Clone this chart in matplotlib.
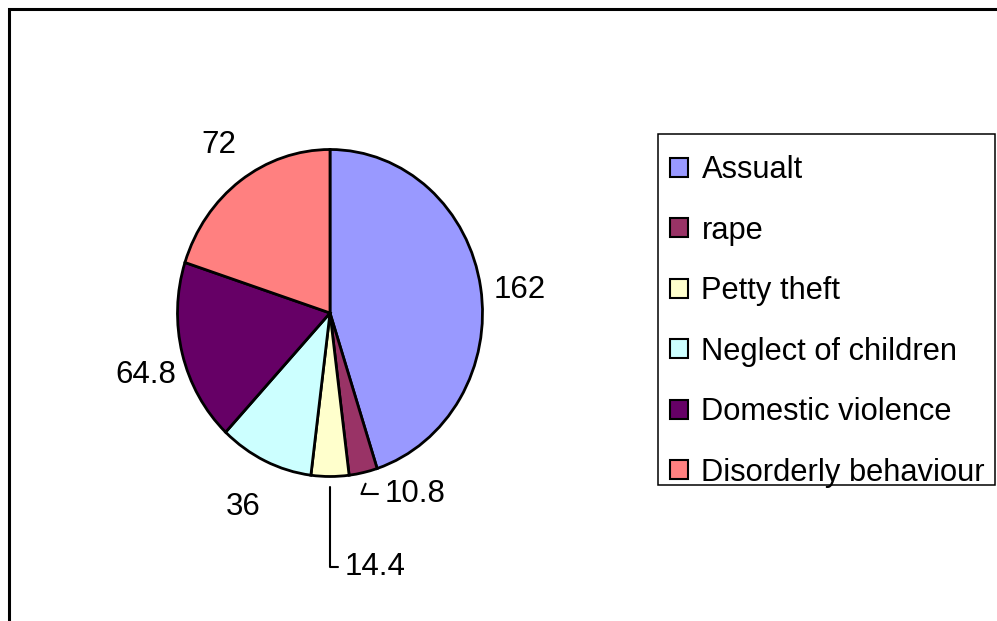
import numpy as np
import matplotlib.pyplot as plt
from matplotlib.patches import Patch, Rectangle

# data
categories = ["Assualt", "rape", "Petty theft", "Neglect of children",
              "Domestic violence", "Disorderly behaviour"]
values = [162, 10.8, 14.4, 36, 64.8, 72]
value_labels = ["162", "10.8", "14.4", "36", "64.8", "72"]
colors = ["#9999FF", "#993366", "#FFFFCC", "#CCFFFF", "#660066", "#FF8080"]

W, H = 997, 621
FS = 22.5
plt.rcParams['font.family'] = ['Liberation Sans', 'DejaVu Sans']
fig = plt.figure(figsize=(W / 100, H / 100), dpi=100)

# pie axes in pixel box (pie is slightly taller than wide)
px0, px1, py0, py1 = 177.5, 482.5, 149.5, 476.5
ax = fig.add_axes([px0 / W, 1 - py1 / H, (px1 - px0) / W, (py1 - py0) / H])
wedges, _ = ax.pie(values, colors=colors, startangle=90, counterclock=False,
                   wedgeprops=dict(edgecolor="black", linewidth=2))
ax.set_aspect('auto')
ax.set_xlim(-1, 1)
ax.set_ylim(-1, 1)

# label placement: radial distance and small angle nudge per slice,
# leader lines for the two thin slices
label_dist = [1.255, None, None, 1.315, 1.265, 1.26]
label_nudge = [-2.6, 0, 0, -0.4, 3.0, -0.7]
leader_text = {1: (0.36, -1.107), 2: (0.098, -1.553)}
for i, w in enumerate(wedges):
    mid = np.deg2rad((w.theta1 + w.theta2) / 2)
    if i in leader_text:
        r0 = 1.07 if i == 1 else 1.065
        ax.annotate(value_labels[i], xy=(r0 * np.cos(mid), r0 * np.sin(mid)),
                    xytext=leader_text[i], ha='left', va='center', fontsize=FS,
                    annotation_clip=False,
                    arrowprops=dict(arrowstyle='-', color='black', lw=1.5,
                                    shrinkA=3, shrinkB=0,
                                    connectionstyle="angle,angleA=0,angleB=%d,rad=0"
                                    % (90 if i == 2 else 68)))
    else:
        a = mid + np.deg2rad(label_nudge[i])
        d = label_dist[i]
        ax.text(d * np.cos(a), d * np.sin(a), value_labels[i],
                ha='center', va='center', fontsize=FS)

# legend (own frame box)
handles = [Patch(facecolor=c, edgecolor='black', linewidth=1.5) for c in colors]
leg = fig.legend(handles, categories, loc='upper left',
                 bbox_to_anchor=(670 / W, 1 - 155 / H), borderaxespad=0,
                 borderpad=0, fontsize=22.2, frameon=False,
                 handlelength=0.58, handleheight=0.58, handletextpad=0.44,
                 labelspacing=0.99)
fig.add_artist(Rectangle((658 / W, 1 - 485 / H), (995 - 658) / W, (485 - 134) / H,
                         transform=fig.transFigure, fill=False,
                         edgecolor='black', linewidth=1.1))

# outer chart frame (right/bottom edges fall outside the image)
fig.add_artist(Rectangle((9 / W, -0.1), 1.2, 1 - 9 / H + 0.1,
                         transform=fig.transFigure, fill=False,
                         edgecolor='black', linewidth=2.2))

fig.savefig("out.png", dpi=100)
